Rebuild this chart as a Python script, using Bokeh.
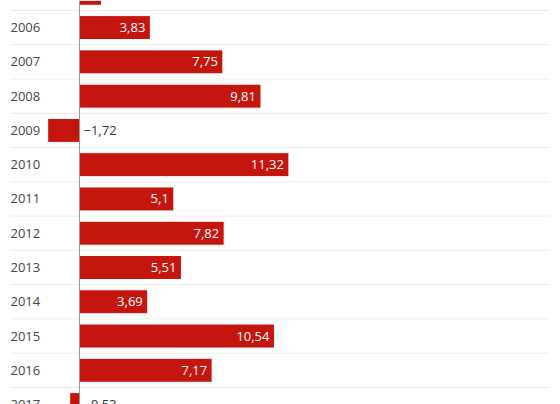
from bokeh.plotting import figure
from bokeh.models import ColumnDataSource, Range1d, Span
from bokeh.core.properties import value
from bokeh.embed import file_html
from bokeh.resources import INLINE

years = [2005, 2006, 2007, 2008, 2009, 2010, 2011, 2012, 2013, 2014, 2015, 2016, 2017]
growth = [1.19, 3.83, 7.75, 9.81, -1.72, 11.32, 5.1, 7.82, 5.51, 3.69, 10.54, 7.17, -0.53]

labels = [f"{v:g}".replace(".", ",").replace("-", "\u2212") for v in growth]

W, H = 560, 404
px_per_unit = 18.5
zero_px = 79
x0 = -zero_px / px_per_unit
x1 = x0 + W / px_per_unit
row_px = 34.27
y_top = 2006 - 27.1 / row_px
y_bottom = y_top + H / row_px

p = figure(width=W, height=H, output_backend="svg", toolbar_location=None,
           x_range=Range1d(x0, x1), y_range=Range1d(y_bottom, y_top),
           x_axis_type=None, y_axis_type=None, min_border=0)
p.outline_line_color = None
p.grid.visible = False
p.background_fill_color = "white"
p.border_fill_color = "white"

# dotted row separators
sep = [y + 0.5 for y in years] + [years[0] - 0.5]
p.segment(x0=[x0 + 10 / px_per_unit] * len(sep), x1=[x0 + 550 / px_per_unit] * len(sep),
          y0=sep, y1=sep, line_color="#d8d8d8", line_width=1, line_dash="1 1")

src = ColumnDataSource(dict(
    year=years, val=growth, lab=labels,
    ylab=[str(y) for y in years],
    left=[x0] * len(years),
))

p.hbar(y="year", left=0, right="val", height=0.7, source=src,
       fill_color="#c4160e", line_color="white", line_width=1)

pos = ColumnDataSource(dict(
    year=[y for y, v in zip(years, growth) if v >= 0],
    val=[v for v in growth if v >= 0],
    lab=[l for l, v in zip(labels, growth) if v >= 0],
))
neg = ColumnDataSource(dict(
    year=[y for y, v in zip(years, growth) if v < 0],
    val=[0 for v in growth if v < 0],
    lab=[l for l, v in zip(labels, growth) if v < 0],
))

p.text(x="val", y="year", text="lab", source=pos, x_offset=-5,
       text_align="right", text_baseline="middle", text_color="white",
       text_font=value("Open Sans"), text_font_size="13px")
p.text(x="val", y="year", text="lab", source=neg, x_offset=4,
       text_align="left", text_baseline="middle", text_color="#333333",
       text_font=value("Open Sans"), text_font_size="13px")

p.text(x="left", y="year", text="ylab", source=src, x_offset=10,
       text_align="left", text_baseline="middle", text_color="#444444",
       text_font=value("Open Sans"), text_font_size="13px")

p.add_layout(Span(location=0, dimension="height", line_color="#999999", line_width=1))

open("out.html", "w").write(file_html(p, INLINE))
